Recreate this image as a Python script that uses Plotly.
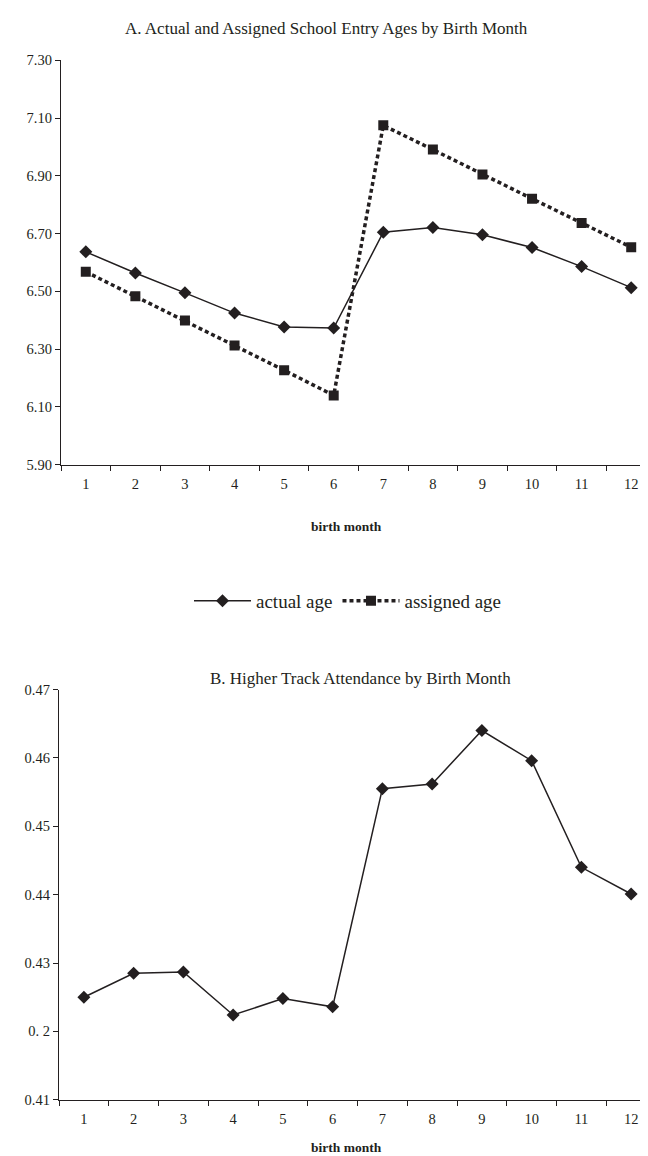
import plotly.graph_objects as go

W, H = 648, 1156

months = list(range(1, 13))
month_labels = [str(m) for m in months]

actual_age = [6.637, 6.564, 6.495, 6.425, 6.377, 6.373, 6.705, 6.721, 6.696, 6.652, 6.586, 6.513]
assigned_age = [6.568, 6.483, 6.399, 6.313, 6.227, 6.140, 7.075, 6.991, 6.905, 6.821, 6.737, 6.653]
higher_track = [0.4250, 0.4285, 0.4287, 0.4224, 0.4248, 0.4236, 0.4555, 0.4562, 0.4640, 0.4596, 0.4440, 0.4401]

top_yticks = [5.90, 6.10, 6.30, 6.50, 6.70, 6.90, 7.10, 7.30]
top_yticklabels = ["5.90", "6.10", "6.30", "6.50", "6.70", "6.90", "7.10", "7.30"]
bot_yticks = [0.41, 0.42, 0.43, 0.44, 0.45, 0.46, 0.47]
bot_yticklabels = ["0.41", "0. 2", "0.43", "0.44", "0.45", "0.46", "0.47"]

INK = "#231f20"
FONT = "Liberation Serif"

def py(y):
    return 1 - y / H

def px(x):
    return x / W

fig = go.Figure()

fig.add_trace(go.Scatter(
    x=months, y=actual_age, name="actual age", mode="lines+markers",
    line=dict(color=INK, width=1.5),
    marker=dict(symbol="diamond", size=10, color=INK),
    xaxis="x", yaxis="y"))
fig.add_trace(go.Scatter(
    x=months, y=assigned_age, name="assigned age", mode="lines+markers",
    line=dict(color=INK, width=3.5, dash="4px,3px"),
    marker=dict(symbol="square", size=10, color=INK),
    xaxis="x", yaxis="y"))
fig.add_trace(go.Scatter(
    x=months, y=higher_track, name="higher track", mode="lines+markers",
    line=dict(color=INK, width=1.5),
    marker=dict(symbol="diamond", size=10, color=INK),
    xaxis="x2", yaxis="y2", showlegend=False))

top_t, top_b = 45, 455
bot_t, bot_b = 683, 1099
top_l, bot_l = 53, 51

TICK = 14.5
axis_common = dict(showgrid=False, zeroline=False, showline=True, linecolor=INK,
                   linewidth=1.3, tickfont=dict(family=FONT, size=TICK, color=INK))

xaxis_common = dict(axis_common, range=[0.5, 12.5], tickvals=months, ticktext=month_labels,
                    ticks="", ticklabelstandoff=6,
                    minor=dict(tick0=0.5, dtick=1, ticks="outside", ticklen=5,
                               tickcolor=INK, tickwidth=1.3))

fig.update_layout(
    width=W, height=H,
    margin=dict(l=0, r=0, t=0, b=0),
    paper_bgcolor="white", plot_bgcolor="white",
    showlegend=True,
    legend=dict(orientation="h", x=px(340), y=py(593), xanchor="center", yanchor="middle",
                font=dict(family=FONT, size=19, color=INK), itemwidth=57,
                traceorder="normal"),
    xaxis=dict(xaxis_common, domain=[px(top_l), 1], anchor="y"),
    yaxis=dict(axis_common, domain=[py(top_b), py(top_t)], range=[5.90, 7.30],
               tickvals=top_yticks, ticktext=top_yticklabels, ticks="outside",
               ticklen=5, tickcolor=INK, tickwidth=1.3, anchor="x"),
    xaxis2=dict(xaxis_common, domain=[px(bot_l), 1], anchor="y2"),
    yaxis2=dict(axis_common, domain=[py(bot_b), py(bot_t)], range=[0.41, 0.47],
                tickvals=bot_yticks, ticktext=bot_yticklabels, ticks="outside",
                ticklen=5, tickcolor=INK, tickwidth=1.3, anchor="x2"),
    annotations=[
        dict(text="A. Actual and Assigned School Entry Ages by Birth Month",
             x=px(318), y=py(13), xref="paper", yref="paper", showarrow=False,
             xanchor="center", yanchor="middle",
             font=dict(family=FONT, size=17, color=INK)),
        dict(text="<b>birth month</b>", x=px(338), y=py(518), xref="paper", yref="paper",
             showarrow=False, xanchor="center", yanchor="middle",
             font=dict(family=FONT, size=13.5, color=INK)),
        dict(text="B. Higher Track Attendance by Birth Month",
             x=px(352), y=py(672), xref="paper", yref="paper", showarrow=False,
             xanchor="center", yanchor="middle",
             font=dict(family=FONT, size=17, color=INK)),
        dict(text="<b>birth month</b>", x=px(338), y=py(1147), xref="paper", yref="paper",
             showarrow=False, xanchor="center", yanchor="middle",
             font=dict(family=FONT, size=13.5, color=INK)),
    ],
)

fig.write_html("out.html")
